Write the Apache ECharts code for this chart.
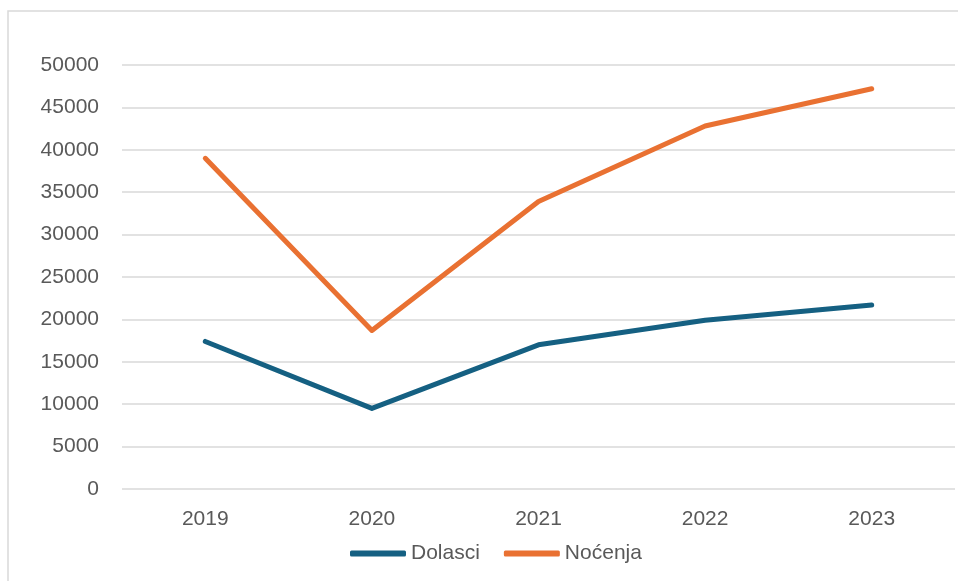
<!DOCTYPE html>
<html>
<head>
<meta charset="utf-8">
<script src="https://cdn.jsdelivr.net/npm/echarts@6/dist/echarts.min.js"></script>
<style>
html,body{margin:0;padding:0;background:#fff;overflow:hidden;}
#c{width:958px;height:581px;}
</style>
</head>
<body>
<div id="c"></div>
<script>
const categories = ['2019', '2020', '2021', '2022', '2023'];
const dolasci = [17400, 9500, 17000, 19900, 21700];
const nocenja = [39000, 18700, 33900, 42800, 47200];
const seriesNames = ['Dolasci', 'Noćenja'];

const chart = echarts.init(document.getElementById('c'), null, {renderer: 'canvas'});
const font = '"Liberation Sans", Arial, sans-serif';
chart.setOption({
  backgroundColor: '#ffffff',
  animation: false,
  graphic: [{
    type: 'rect',
    shape: {x: 8, y: 11, width: 1200, height: 800},
    style: {fill: 'none', stroke: '#d9d9d9', lineWidth: 1.5},
    silent: true
  }],
  grid: {left: 122, right: 3, top: 65, bottom: 92},
  legend: {
    data: seriesNames,
    left: 345,
    top: 538,
    icon: 'roundRect',
    itemWidth: 56,
    itemHeight: 6,
    itemGap: 24,
    textStyle: {fontFamily: font, fontSize: 21, color: '#595959'}
  },
  xAxis: {
    type: 'category',
    data: categories,
    boundaryGap: true,
    axisLine: {show: false},
    axisTick: {show: false},
    axisLabel: {fontFamily: font, fontSize: 21, color: '#595959', margin: 20}
  },
  yAxis: {
    type: 'value',
    min: 0,
    max: 50000,
    interval: 5000,
    axisLine: {show: false},
    axisTick: {show: false},
    axisLabel: {fontFamily: font, fontSize: 21, color: '#595959', margin: 23,
      formatter: function (v) { return String(v); }},
    splitLine: {lineStyle: {color: '#d9d9d9', width: 1.5}}
  },
  series: [
    {
      name: seriesNames[0],
      type: 'line',
      data: dolasci,
      showSymbol: false,
      symbol: 'none',
      itemStyle: {color: '#156082'},
      lineStyle: {color: '#156082', width: 5, cap: 'round', join: 'round'}
    },
    {
      name: seriesNames[1],
      type: 'line',
      data: nocenja,
      showSymbol: false,
      symbol: 'none',
      itemStyle: {color: '#E97132'},
      lineStyle: {color: '#E97132', width: 5, cap: 'round', join: 'round'}
    }
  ]
});
</script>
</body>
</html>
